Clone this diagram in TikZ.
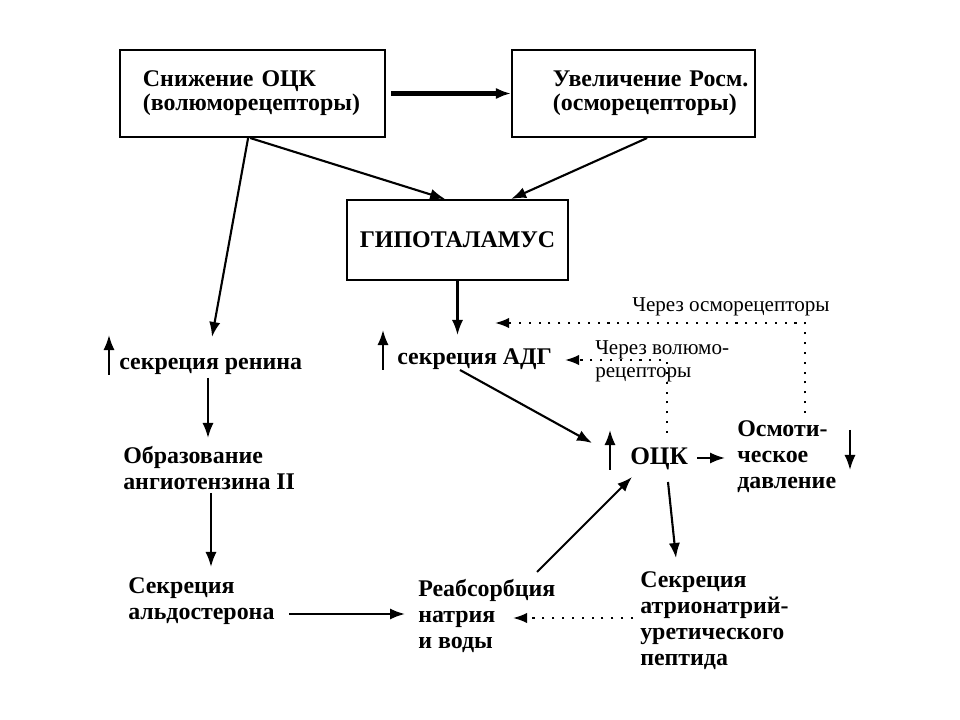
\documentclass[tikz,border=0pt]{standalone}
\usepackage{fontspec}
\setmainfont{Liberation Serif}
\usetikzlibrary{arrows.meta,calc}
\tikzset{
	lbl/.style={font=\fontsize{17}{18.5}\selectfont\bfseries, inner sep=0, align=left},
	note/.style={font=\fontsize{15}{16.5}\selectfont, inner sep=0, align=left},
	box/.style={draw, line width=1.4pt, inner sep=0, align=left, font=\fontsize{17}{17}\selectfont\bfseries},
	arr/.style={-{Latex[length=0.375cm,width=0.28cm]}, line width=1.5pt},
	dots/.style={-{Latex[length=0.35cm,width=0.26cm]}, line width=1.5pt, dash pattern=on 1.5pt off 5.5pt}
}
\begin{document}
\begin{tikzpicture}[x=0.025cm,y=-0.025cm]
				\useasboundingbox (0,0) rectangle (960,720);
				% boxes
				\node[box, minimum width=6.625cm, minimum height=2.175cm, text width=5.475cm] (vol) at (252.5,93.5) {Снижение ОЦК\\(волюморецепторы)};
				\node[box, minimum width=6.075cm, minimum height=2.175cm, text width=4.025cm] (osm) at (633.5,93.5) {Увеличение~Росм.\\(осморецепторы)};
				\node[box, minimum width=5.525cm, minimum height=2cm] (hyp) at (457.5,240) {ГИПОТАЛАМУС};
				% texts
				\node[lbl, anchor=base west] (renin) at (119,370) {секреция ренина};
				\node[lbl, anchor=base west] (adh) at (397,365) {секреция АДГ};
				\node[lbl, anchor=base west, font=\fontsize{18}{18}\selectfont\bfseries] (bcv) at (630,465) {ОЦК};
				\node[lbl, anchor=north west] (angio) at (123,446) {Образование\\ангиотензина II};
				\node[lbl, anchor=north west] (aldo) at (128,577) {Секреция\\альдостерона};
				\node[lbl, anchor=north west] (reab) at (418,579) {Реабсорбция\\натрия\\и воды};
				\node[lbl, anchor=north west] (anp) at (640,571) {Секреция\\атрионатрий-\\уретического\\пептида};
				\node[lbl, anchor=north west] (osmp) at (737,420) {Осмоти-\\ческое\\давление};
				\node[note, anchor=base west] (viaosm) at (632,312) {Через осморецепторы};
				\node[note, anchor=north west] (viavol) at (595,340) {Через волюмо-\\рецепторы};
				% connectors
				\draw[arr, line width=3pt] ([xshift=0.125cm]vol.east) -- (osm.west);
				\draw[arr] ([xshift=-0.06cm]vol.south) -- ([xshift=-0.31cm]hyp.north);
				\draw[arr] ([xshift=0.34cm]osm.south) -- ([xshift=1.34cm]hyp.north);
				\draw[arr] ([xshift=-0.11cm]vol.south) -- ($(renin.base west)+(93,-33)$);
				\draw[arr] (hyp.south) -- ($(adh.base west)+(60.5,-30)$);
				\draw[arr] ($(renin.base west)+(89,8)$) -- ($(angio.north west)+(85,-8)$);
				\draw[arr] ($(angio.north west)+(88,47)$) -- ($(aldo.north west)+(83,-10)$);
				\draw[arr] ($(aldo.north west)+(161,37)$) -- ($(reab.north west)+(-13,35)$);
				\draw[arr] ($(reab.north west)+(119,-7)$) -- ($(bcv.base west)+(2,12)$);
				\draw[arr] ($(bcv.base west)+(38,17)$) -- ($(anp.north west)+(36,-13)$);
				\draw[arr] ($(adh.base west)+(63,5)$) -- ($(bcv.base west)+(-38,-22)$);
				\draw[arr] ($(bcv.base west)+(67,-7)$) -- ($(osmp.north west)+(-12,38)$);
				\draw[dots] ($(anp.north west)+(-7,47)$) -- ($(reab.north west)+(95,39)$);
				\draw[dots] ($(osmp.north west)+(68,-7)$) |- ($(adh.base west)+(98,-42)$);
				\draw[dots] ($(bcv.base west)+(37,-32)$) |- ($(adh.base west)+(168,-5)$);
				% up / down marks
				\draw[arr] ($(renin.base west)+(-10,5)$) -- ++(0,-40);
				\draw[arr] ($(adh.base west)+(-14,5)$) -- ++(0,-40);
				\draw[arr] ($(bcv.base west)+(-20,5)$) -- ++(0,-40);
				\draw[arr] ($(osmp.north west)+(113,10)$) -- ++(0,40);
\end{tikzpicture}
\end{document}
